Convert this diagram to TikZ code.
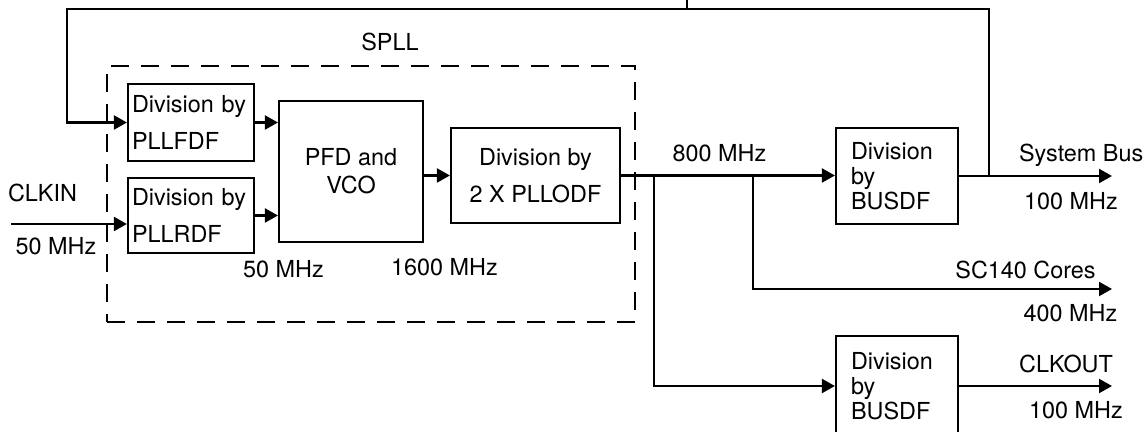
\documentclass[tikz,border=0pt]{standalone}
\usepackage{fontspec}
\setmainfont{TeX Gyre Heros}
\usetikzlibrary{arrows.meta,positioning,calc}

\begin{document}
\begin{tikzpicture}[x=0.5pt,y=-0.5pt,>={Triangle[length=6.5pt,width=7pt]},line width=1.1pt,
   font=\fontsize{11.7}{14}\selectfont,
   blk/.style={draw,inner xsep=3.5pt,inner ysep=0pt},
   lbl/.style={inner sep=0pt,text depth=0pt}]
  \useasboundingbox (0,0) rectangle (1146,432);
  % SPLL frame
  \node[draw,dash pattern=on 9pt off 6pt,minimum width=264pt,minimum height=128pt] (spll) at (371,194) {};
  \node[lbl] (spllname) at (390,42) {SPLL};
  % dividers and VCO
  \node[blk,inner xsep=2pt,text width=59pt,minimum height=38.5pt,align=left,font=\fontsize{11.7}{18.5}\selectfont]
     (fdf) at (191,122.5) {Division by\\PLLFDF};
  \node[blk,inner xsep=2pt,text width=59pt,minimum height=37.5pt,align=left,font=\fontsize{11.7}{18.5}\selectfont]
     (rdf) at (191,215.5) {Division by\\PLLRDF};
  \node[blk,minimum width=72pt,minimum height=70.5pt,align=center,font=\fontsize{11.7}{14}\selectfont]
     (pfd) at (351,171.5) {PFD and\\VCO};
  \node[blk,minimum width=84.5pt,minimum height=47.5pt,align=center,font=\fontsize{11.7}{18.5}\selectfont]
     (odf) at (535.5,175.5) {Division by\\2 X PLLODF};
  % bus dividers
  \node[blk,inner xsep=7.5pt,text width=46pt,minimum height=48pt,align=left,font=\fontsize{11.7}{12.5}\selectfont]
     (bus) at (897,176) {Division\\by\\BUSDF};
  \node[blk,inner xsep=7.5pt,text width=46pt,minimum height=50pt,align=left,font=\fontsize{11.7}{12.5}\selectfont]
     (clkdiv) at (897,386) {Division\\by\\BUSDF};
  % labels
  \node[lbl] (clkin) at (42.5,193) {CLKIN};
  \node[lbl] (fin) at (56,246) {50 MHz};
  \node[lbl] (fref) at (283.5,269) {50 MHz};
  \node[lbl] (fvco) at (444.5,267) {1600 MHz};
  \node[lbl] (fout) at (719.5,153) {800 MHz};
  \node[lbl,anchor=west] (sysbus) at (1018,153) {System Bus};
  \node[lbl] (fbus) at (1071,201) {100 MHz};
  \node[lbl] (cores) at (1025.5,270) {SC140 Cores};
  \node[lbl] (fcore) at (1070.5,313) {400 MHz};
  \node[lbl] (clkout) at (1066,364) {CLKOUT};
  \node[lbl] (fclk) at (1076,410) {100 MHz};
  % free ends
  \coordinate (in) at (11,224);
  \coordinate (stub) at (687,0);
  \coordinate (fbl) at (67,9);
  \coordinate (fbk) at (989,176);
  \coordinate (br1) at (654,175.5);
  \coordinate (br2) at (753,175.5);
  \coordinate (sysend) at (1112,176);
  \coordinate (coreend) at (1112,289);
  \coordinate (clkend) at (1112,386);
  % inside the SPLL
  \draw[->] (in) -- (in -| rdf.west);
  \draw[->] (fdf.east) -- (fdf.east -| pfd.west);
  \draw[->] (rdf.east) -- (rdf.east -| pfd.west);
  \draw[->] (pfd.east |- odf.west) -- (odf.west);
  % 800 MHz distribution
  \draw[->] (odf.east) -- (odf.east -| bus.west);
  \draw[->] (br1) |- (clkdiv.west);
  \draw[->] (br2) |- (coreend);
  \draw[->] (bus.east) -- (sysend);
  \draw[->] (clkdiv.east) -- (clkend);
  % feedback from the system bus
  \draw[->] (fbk) |- (fbl) |- (fdf.west);
  \draw (stub) -- (stub |- fbl);
\end{tikzpicture}
\end{document}
